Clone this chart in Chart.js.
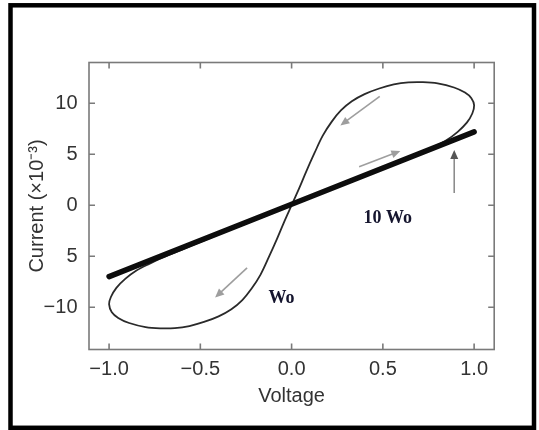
<!DOCTYPE html>
<html><head><meta charset="utf-8">
<script src="https://cdn.jsdelivr.net/npm/chart.js@4/dist/chart.umd.min.js"></script>
<style>html,body{margin:0;padding:0;background:#fff;}#wrap{width:539px;height:430px;position:relative;}</style>
</head><body><div id="wrap"><canvas id="c" width="539" height="430"></canvas></div>
<script>
// Wo loop (thin curve): origin -> forward branch -> right tip -> upper return -> origin -> lower-left loop -> origin
const loopVoltage = [0, 0.1, 0.2, 0.3, 0.4, 0.5, 0.6, 0.7, 0.78, 0.85, 0.91, 0.96, 0.99, 1.0, 0.985, 0.95, 0.89, 0.8, 0.72, 0.64, 0.56, 0.48, 0.4, 0.33, 0.27, 0.22, 0.17, 0.125, 0.08, 0.04, 0,
  -0.04, -0.08, -0.125, -0.17, -0.22, -0.27, -0.33, -0.4, -0.48, -0.56, -0.64, -0.72, -0.8, -0.89, -0.95, -0.985, -1.0, -0.99, -0.96, -0.91, -0.85, -0.78, -0.7, -0.6, -0.5, -0.4, -0.3, -0.2, -0.1, 0];
const loopCurrent = [0, 0.72, 1.45, 2.15, 2.85, 3.6, 4.35, 5.1, 5.75, 6.4, 7.2, 8.1, 9.0, 9.8, 10.5, 11.05, 11.55, 11.95, 12.07, 12.05, 11.85, 11.45, 10.9, 10.2, 9.3, 8.2, 6.8, 5.1, 3.3, 1.6, 0,
  -1.6, -3.3, -5.1, -6.8, -8.2, -9.3, -10.2, -10.9, -11.45, -11.85, -12.05, -12.07, -11.95, -11.55, -11.05, -10.5, -9.7, -9.0, -8.1, -7.2, -6.4, -5.75, -5.1, -4.35, -3.6, -2.85, -2.15, -1.45, -0.72, 0];
// 10 Wo (thick straight line)
const lineVoltage = [-1.0, 0.0, 1.0];
const lineCurrent = [-7.0, 0.1, 7.2];
// ticks
const xTickValues = [-1, -0.5, 0, 0.5, 1];
const xTickLabels = ['\u22121.0', '\u22120.5', '0.0', '0.5', '1.0'];
const yTickValues = [10, 5, 0, -5, -10];
const yTickLabels = ['10', '5', '0', '5', '\u221210'];
// direction arrows (data coordinates): start -> end
const arrowStartV = [0.483, 0.370, 0.891, -0.244];
const arrowStartI = [10.68, 3.77, 1.20, -6.14];
const arrowEndV = [0.267, 0.596, 0.891, -0.419];
const arrowEndI = [7.82, 5.32, 5.42, -9.06];
// text labels
const labelTexts = ['10 Wo', 'Wo'];
const labelV = [0.527, -0.055];
const labelI = [-1.3, -9.15];

const FONT = "'Liberation Sans', Arial, Helvetica, sans-serif";

const framePlugin = {
  id: 'frame',
  beforeDraw(chart) {
    const ctx = chart.ctx;
    ctx.save(); ctx.fillStyle = '#fff'; ctx.fillRect(0, 0, chart.width, chart.height); ctx.restore();
  },
  beforeDatasetsDraw(chart) {
    const ctx = chart.ctx, a = chart.chartArea;
    const xs = chart.scales.x, ys = chart.scales.y;
    ctx.save();
    ctx.strokeStyle = '#7a7a7a'; ctx.lineWidth = 1.6;
    ctx.strokeRect(a.left, a.top, a.right - a.left, a.bottom - a.top);
    const tl = 6;
    ctx.beginPath();
    xs.ticks.forEach(t => {
      const px = xs.getPixelForValue(t.value);
      ctx.moveTo(px, a.bottom); ctx.lineTo(px, a.bottom - tl);
      ctx.moveTo(px, a.top); ctx.lineTo(px, a.top + tl);
    });
    ys.ticks.forEach(t => {
      const py = ys.getPixelForValue(t.value);
      ctx.moveTo(a.left, py); ctx.lineTo(a.left + tl, py);
      ctx.moveTo(a.right, py); ctx.lineTo(a.right - tl, py);
    });
    ctx.stroke();
    ctx.restore();
  },
  afterDraw(chart) {
    const ctx = chart.ctx;
    const xs = chart.scales.x, ys = chart.scales.y;
    ctx.save();
    // arrows
    for (let i = 0; i < arrowStartV.length; i++) {
      const x1 = xs.getPixelForValue(arrowStartV[i]), y1 = ys.getPixelForValue(arrowStartI[i]);
      const x2 = xs.getPixelForValue(arrowEndV[i]), y2 = ys.getPixelForValue(arrowEndI[i]);
      const ang = Math.atan2(y2 - y1, x2 - x1);
      const hl = 9, hw = 4;
      const col = i === 2 ? '#8c8c8c' : '#9e9e9e';
      ctx.strokeStyle = col; ctx.lineWidth = 1.6;
      ctx.beginPath(); ctx.moveTo(x1, y1);
      ctx.lineTo(x2 - Math.cos(ang) * hl * 0.8, y2 - Math.sin(ang) * hl * 0.8); ctx.stroke();
      ctx.fillStyle = i === 2 ? '#555' : col;
      ctx.beginPath();
      ctx.moveTo(x2, y2);
      ctx.lineTo(x2 - Math.cos(ang) * hl + Math.sin(ang) * hw, y2 - Math.sin(ang) * hl - Math.cos(ang) * hw);
      ctx.lineTo(x2 - Math.cos(ang) * hl - Math.sin(ang) * hw, y2 - Math.sin(ang) * hl + Math.cos(ang) * hw);
      ctx.closePath(); ctx.fill();
    }
    // labels
    ctx.fillStyle = '#15152e';
    ctx.font = "bold 18px 'Liberation Serif', 'Times New Roman', serif";
    ctx.textAlign = 'center'; ctx.textBaseline = 'middle';
    for (let i = 0; i < labelTexts.length; i++) {
      ctx.fillText(labelTexts[i], xs.getPixelForValue(labelV[i]), ys.getPixelForValue(labelI[i]));
    }
    // outer frame
    ctx.strokeStyle = '#000'; ctx.lineWidth = 4.5;
    ctx.strokeRect(10.5, 5.3, 523.5, 422.5);
    ctx.restore();
  }
};

new Chart(document.getElementById('c'), {
  type: 'scatter',
  data: {
    datasets: [
      {
        label: 'Wo',
        data: loopVoltage.map((v, i) => ({ x: v, y: loopCurrent[i] })),
        showLine: true, tension: 0.35, borderColor: '#2a2a2a', borderWidth: 1.8,
        pointRadius: 0, fill: false, order: 2
      },
      {
        label: '10 Wo',
        data: lineVoltage.map((v, i) => ({ x: v, y: lineCurrent[i] })),
        showLine: true, tension: 0, borderColor: '#0d0d0d', borderWidth: 5.5,
        borderCapStyle: 'round', pointRadius: 0, fill: false, order: 1
      }
    ]
  },
  options: {
    responsive: false, animation: false,
    layout: { padding: { top: 62.5, right: 44.8, left: 0, bottom: 0 } },
    plugins: { legend: { display: false }, tooltip: { enabled: false } },
    scales: {
      x: {
        type: 'linear', min: -1.11, max: 1.11,
        afterBuildTicks: s => { s.ticks = xTickValues.map(v => ({ value: v })); },
        afterFit: s => { s.height = 80.5; },
        grid: { display: false, drawTicks: false },
        border: { display: false },
        ticks: {
          callback: v => xTickLabels[xTickValues.indexOf(v)],
          font: { family: FONT, size: 20 }, color: '#333', padding: 8, maxRotation: 0
        },
        title: { display: true, text: 'Voltage', font: { family: FONT, size: 20 }, color: '#333', padding: { top: 0, bottom: 22 } }
      },
      y: {
        type: 'linear', min: -14.15, max: 14,
        afterBuildTicks: s => { s.ticks = yTickValues.map(v => ({ value: v })); },
        afterFit: s => { s.width = 89; },
        grid: { display: false, drawTicks: false },
        border: { display: false },
        ticks: {
          callback: v => yTickLabels[yTickValues.indexOf(v)],
          font: { family: FONT, size: 20 }, color: '#333', padding: 11.5
        },
        title: { display: true, text: 'Current (\u00d710\u207b\u00b3)', font: { family: FONT, size: 20 }, color: '#333', padding: { top: 25.5, bottom: 0 } }
      }
    }
  },
  plugins: [framePlugin]
});
</script>
</body></html>
